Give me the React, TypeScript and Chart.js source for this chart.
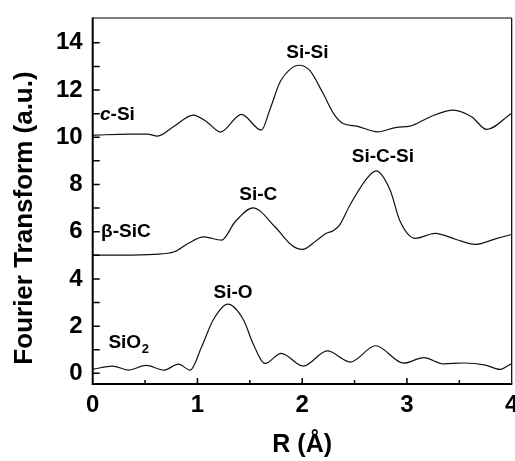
import React, { useEffect, useRef } from "react";
import { Chart, registerables } from "chart.js";

Chart.register(...registerables);

const FONT = '"Liberation Sans", Arial, Helvetica, sans-serif';

// R (Å) and FT magnitude (a.u.)
const cSiR = [0, 0.36, 0.52, 0.62, 0.77, 0.96, 1.09, 1.22, 1.42, 1.61, 1.69, 1.79, 1.915, 1.97, 2.07, 2.2, 2.3, 2.39, 2.52, 2.72, 2.9, 3.03, 3.22, 3.44, 3.62, 3.76, 4.0];
const cSiV = [10.09, 10.13, 10.13, 10.05, 10.44, 10.94, 10.65, 10.22, 10.97, 10.3, 11.15, 12.35, 12.98, 13.05, 12.84, 11.85, 11.0, 10.58, 10.47, 10.23, 10.42, 10.47, 10.86, 11.15, 10.86, 10.33, 11.02];

const sicR = [0, 0.27, 0.59, 0.78, 0.91, 1.06, 1.23, 1.36, 1.53, 1.74, 1.9, 2.0, 2.14, 2.23, 2.3, 2.36, 2.456, 2.616, 2.705, 2.84, 2.93, 3.08, 3.27, 3.47, 3.65, 3.86, 4.0];
const sicV = [5.01, 5.01, 5.04, 5.15, 5.5, 5.78, 5.64, 6.42, 7.01, 6.21, 5.43, 5.25, 5.64, 5.93, 6.05, 6.3, 7.13, 8.25, 8.58, 7.76, 6.49, 5.72, 5.93, 5.67, 5.46, 5.72, 5.88];

const sio2R = [0, 0.19, 0.34, 0.51, 0.68, 0.82, 0.93, 1.04, 1.15, 1.29, 1.44, 1.53, 1.645, 1.8, 2.01, 2.24, 2.46, 2.7, 2.97, 3.16, 3.35, 3.54, 3.75, 3.89, 4.0];
const sio2V = [0.17, 0.31, 0.14, 0.34, 0.14, 0.39, 0.14, 1.13, 2.26, 2.93, 2.26, 1.27, 0.42, 0.85, 0.31, 0.95, 0.48, 1.17, 0.43, 0.67, 0.4, 0.44, 0.35, 0.17, 0.42];

const xTickValues = [0, 1, 2, 3, 4];
const yTickValues = [0, 2, 4, 6, 8, 10, 12, 14];

// peak labels: [text, R, value]
const peakLabels: [string, number, number][] = [
  ["Si-Si", 2.05, 13.56],
  ["Si-C-Si", 2.77, 9.17],
  ["Si-C", 1.58, 7.55],
  ["Si-O", 1.34, 3.42],
];
// sample labels: left-aligned, at R and value
const sampleLabelPos = {
  cSi: [0.07, 10.94],
  sic: [0.08, 5.99],
  sio2: [0.15, 1.28],
};

const toPoints = (xs: number[], ys: number[]) => xs.map((x, i) => ({ x, y: ys[i] }));

const framePlugin = {
  id: "framePlugin",
  afterDraw(chart: any) {
    const { ctx, chartArea: a, scales } = chart;
    const xs = scales.x;
    const ys = scales.y;
    ctx.save();
    // frame
    ctx.strokeStyle = "#000";
    ctx.lineWidth = 1.2;
    ctx.beginPath();
    ctx.moveTo(a.left, a.top);
    ctx.lineTo(a.right, a.top);
    ctx.moveTo(a.right, a.top);
    ctx.lineTo(a.right, a.bottom);
    ctx.stroke();
    ctx.lineWidth = 2;
    ctx.beginPath();
    ctx.moveTo(a.left, a.top - 0.5);
    ctx.lineTo(a.left, a.bottom);
    ctx.lineTo(a.right + 0.6, a.bottom);
    ctx.stroke();
    // y ticks (inward), every unit
    ctx.lineWidth = 1.5;
    ctx.beginPath();
    for (let v = 0; v <= 14; v++) {
      const y = ys.getPixelForValue(v);
      ctx.moveTo(a.left, y);
      ctx.lineTo(a.left + 7, y);
    }
    // x ticks (inward), every 0.5
    for (let i = 1; i < 8; i++) {
      const v = i * 0.5;
      const x = xs.getPixelForValue(v);
      const len = i % 2 === 0 ? 6 : 4;
      ctx.moveTo(x, a.bottom);
      ctx.lineTo(x, a.bottom - len);
    }
    ctx.stroke();

    // peak labels
    ctx.fillStyle = "#000";
    ctx.textBaseline = "middle";
    ctx.font = `bold 19px ${FONT}`;
    ctx.textAlign = "center";
    for (const [t, r, v] of peakLabels) {
      ctx.fillText(t, xs.getPixelForValue(r), ys.getPixelForValue(v));
    }
    // sample labels
    ctx.textAlign = "left";
    {
      const [r, v] = sampleLabelPos.cSi;
      let x = xs.getPixelForValue(r);
      const y = ys.getPixelForValue(v);
      ctx.font = `italic bold 19px ${FONT}`;
      ctx.fillText("c", x, y);
      x += ctx.measureText("c").width;
      ctx.font = `bold 19px ${FONT}`;
      ctx.fillText("-Si", x, y);
    }
    {
      const [r, v] = sampleLabelPos.sic;
      ctx.font = `bold 19px ${FONT}`;
      ctx.fillText("β-SiC", xs.getPixelForValue(r), ys.getPixelForValue(v));
    }
    {
      const [r, v] = sampleLabelPos.sio2;
      let x = xs.getPixelForValue(r);
      const y = ys.getPixelForValue(v);
      ctx.font = `bold 19px ${FONT}`;
      ctx.fillText("SiO", x, y);
      x += ctx.measureText("SiO").width;
      ctx.font = `bold 13px ${FONT}`;
      ctx.fillText("2", x + 0.5, y + 6);
    }
    // y title
    ctx.font = `bold 26px ${FONT}`;
    ctx.textAlign = "center";
    ctx.translate(25, 218);
    ctx.rotate(-Math.PI / 2);
    ctx.fillText("Fourier Transform (a.u.)", 0, 0);
    ctx.restore();
  },
};

export default function App() {
  const ref = useRef<HTMLCanvasElement | null>(null);
  useEffect(() => {
    if (!ref.current) return;
    const lineDs = (label: string, xs: number[], ys: number[]) => ({
      label,
      data: toPoints(xs, ys),
      borderColor: "#111",
      borderWidth: 1.2,
      pointRadius: 0,
      fill: false,
      cubicInterpolationMode: "monotone" as const,
    });
    const chart = new Chart(ref.current, {
      type: "line",
      data: {
        datasets: [
          lineDs("c-Si", cSiR, cSiV),
          lineDs("β-SiC", sicR, sicV),
          lineDs("SiO2", sio2R, sio2V),
        ],
      },
      options: {
        animation: false,
        responsive: false,
        devicePixelRatio: 1,
        layout: { padding: { top: 18, right: 3.3, left: 0, bottom: 0 } },
        plugins: { legend: { display: false }, tooltip: { enabled: false } },
        scales: {
          x: {
            type: "linear",
            min: 0,
            max: 4,
            grid: { display: false, drawTicks: false },
            border: { display: false },
            afterBuildTicks: (s: any) => {
              s.ticks = xTickValues.map((v) => ({ value: v }));
            },
            afterFit: (s: any) => {
              s.height = 77;
              s.paddingLeft = 0;
              s.paddingRight = 0;
            },
            ticks: {
              padding: 7,
              color: "#000",
              font: { family: FONT, size: 24, weight: "bold" },
              maxRotation: 0,
              autoSkip: false,
              callback: (v: any) => String(v),
            },
            title: {
              display: true,
              text: "R (Å)",
              color: "#000",
              font: { family: FONT, size: 25, weight: "bold", lineHeight: 1 },
              padding: { top: 0, bottom: 3.5 },
            },
          },
          y: {
            type: "linear",
            min: -0.45,
            max: 15.05,
            grid: { display: false, drawTicks: false },
            border: { display: false },
            afterBuildTicks: (s: any) => {
              s.ticks = yTickValues.map((v) => ({ value: v }));
            },
            afterFit: (s: any) => {
              s.width = 92.7;
              s.paddingTop = 0;
              s.paddingBottom = 0;
            },
            ticks: {
              padding: 10,
              color: "#000",
              font: { family: FONT, size: 24, weight: "bold" },
              autoSkip: false,
              callback: (v: any) => String(v),
            },
          },
        },
      },
      plugins: [framePlugin],
    });
    return () => chart.destroy();
  }, []);
  return (
    <div style={{ position: "absolute", left: 0, top: 0, width: 515, height: 461, background: "#fff" }}>
      <canvas ref={ref} width={515} height={461} style={{ width: 515, height: 461, display: "block" }} />
    </div>
  );
}
